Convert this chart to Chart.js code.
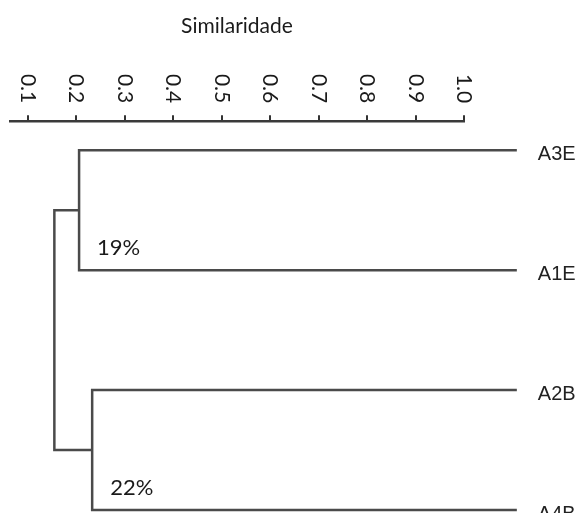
<!DOCTYPE html>
<html lang="pt">
<head>
  <meta charset="UTF-8">
  <title>Dendrograma - Similaridade</title>
  <script src="https://cdn.jsdelivr.net/npm/chart.js"></script>
  <style>
    body { margin: 0; background: #fff; }
    .chart-container { width: 584px; height: 513px; }
  </style>
</head>
<body>
  <div class="chart-container">
    <canvas id="dendroChart"></canvas>
  </div>

  <script>
    // folhas, de cima para baixo
    const leaves = ['A3E', 'A1E', 'A2B', 'A4B'];
    const leafEnd = 1.109;
    // grupos: pares de folhas, nível de junção e rótulo
    const groupLeaves = [[0, 1], [2, 3]];
    const groupLevels = [0.206, 0.233];
    const groupLabels = ['19%', '22%'];
    const rootLevel = 0.155;
    // eixo de similaridade
    const tickValues = [0.1, 0.2, 0.3, 0.4, 0.5, 0.6, 0.7, 0.8, 0.9, 1.0];
    const tickLabels = ['0.1', '0.2', '0.3', '0.4', '0.5', '0.6', '0.7', '0.8', '0.9', '1.0'];

    const lineColor = '#4a4a4a';
    const leafY = i => i + 1;

    // um "colchete" por grupo
    const datasets = groupLeaves.map((pair, g) => ({
      data: [
        { x: leafEnd, y: leafY(pair[0]) },
        { x: groupLevels[g], y: leafY(pair[0]) },
        { x: groupLevels[g], y: leafY(pair[1]) },
        { x: leafEnd, y: leafY(pair[1]) }
      ]
    }));
    // ligação da raiz entre os dois grupos
    const mids = groupLeaves.map(p => (leafY(p[0]) + leafY(p[1])) / 2);
    datasets.push({
      data: [
        { x: groupLevels[0], y: mids[0] },
        { x: rootLevel, y: mids[0] },
        { x: rootLevel, y: mids[1] },
        { x: groupLevels[1], y: mids[1] }
      ]
    });
    datasets.forEach(d => Object.assign(d, {
      showLine: true,
      borderColor: lineColor,
      borderWidth: 2.5,
      pointRadius: 0,
      borderJoinStyle: 'miter',
      clip: false
    }));

    // rótulos desenhados à mão (ticks girados, folhas, percentagens)
    const labelPlugin = {
      id: 'dendroLabels',
      afterDraw(chart) {
        const ctx = chart.ctx;
        const xs = chart.scales.x;
        const ys = chart.scales.y;
        const top = chart.chartArea.top;
        ctx.save();
        ctx.fillStyle = '#1a1a1a';

        ctx.font = '21px Lato';
        ctx.textAlign = 'right';
        ctx.textBaseline = 'middle';
        tickValues.forEach((v, i) => {
          ctx.save();
          ctx.translate(xs.getPixelForValue(v), top - 18);
          ctx.rotate(Math.PI / 2);
          ctx.fillText(tickLabels[i], 0, 0);
          ctx.restore();
        });

        ctx.fillStyle = '#222';
        ctx.font = '20px "Liberation Sans"';
        ctx.textAlign = 'left';
        ctx.textBaseline = 'middle';
        leaves.forEach((name, i) => {
          ctx.fillText(name, xs.getPixelForValue(leafEnd) + 21, ys.getPixelForValue(leafY(i)) + 4);
        });

        ctx.fillStyle = '#1a1a1a';
        ctx.font = '22px Lato';
        ctx.textBaseline = 'alphabetic';
        groupLabels.forEach((txt, g) => {
          ctx.fillText(txt, xs.getPixelForValue(groupLevels[g]) + 18,
                       ys.getPixelForValue(leafY(groupLeaves[g][1])) - 15);
        });
        ctx.restore();
      }
    };

    new Chart(document.getElementById('dendroChart'), {
      type: 'scatter',
      data: { datasets: datasets },
      options: {
        responsive: true,
        maintainAspectRatio: false,
        animation: false,
        layout: { padding: { left: 10, right: 120, top: 0, bottom: 0 } },
        plugins: { legend: { display: false }, tooltip: { enabled: false } },
        scales: {
          x: {
            type: 'linear',
            position: 'top',
            min: 0.0635,
            max: 1.0,
            afterBuildTicks: scale => { scale.ticks = tickValues.map(v => ({ value: v })); },
            ticks: { display: false },
            grid: { drawOnChartArea: false, drawTicks: true, tickLength: 6, color: '#333', lineWidth: 2 },
            border: { display: true, color: '#3a3a3a', width: 2.5 },
            title: {
              display: true,
              text: 'Similaridade',
              color: '#1a1a1a',
              font: { family: 'Lato', size: 21 },
              padding: { top: 14, bottom: 76 }
            }
          },
          y: {
            type: 'linear',
            display: false,
            reverse: true,
            min: 0.758,
            max: 4.025
          }
        }
      },
      plugins: [labelPlugin]
    });
  </script>
</body>
</html>
